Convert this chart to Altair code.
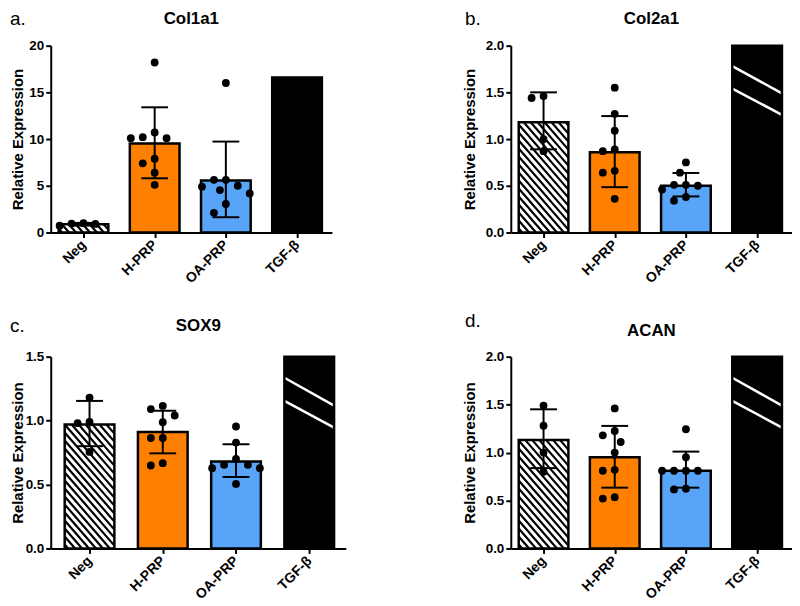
import json
import pandas as pd
import altair as alt

# ---------------- data ----------------
CATEGORIES = ["Neg", "H-PRP", "OA-PRP", "TGF-β"]
GENES = ["Col1a1", "Col2a1", "SOX9", "ACAN"]
LETTERS = ["a.", "b.", "c.", "d."]

Y_MAX = [20, 2.0, 1.5, 2.0]
Y_TICKS = [[0, 5, 10, 15, 20], [0, 0.5, 1.0, 1.5, 2.0], [0, 0.5, 1.0, 1.5], [0, 0.5, 1.0, 1.5, 2.0]]

# bar heights (TGF-β in b-d runs off the scale, drawn up to the axis maximum)
COL1A1_MEAN = [0.88, 9.52, 5.56, 16.6]
COL2A1_MEAN = [1.18, 0.86, 0.50, 2.0]
SOX9_MEAN = [0.97, 0.91, 0.68, 1.5]
ACAN_MEAN = [1.13, 0.95, 0.81, 2.0]

# error bars (low, high) for Neg, H-PRP, OA-PRP
COL1A1_LO = [0.74, 5.8, 1.63]
COL1A1_HI = [1.02, 13.4, 9.73]
COL2A1_LO = [0.89, 0.485, 0.386]
COL2A1_HI = [1.50, 1.246, 0.637]
SOX9_LO = [0.80, 0.744, 0.559]
SOX9_HI = [1.154, 1.077, 0.815]
ACAN_LO = [0.838, 0.634, 0.634]
ACAN_HI = [1.451, 1.278, 1.01]

# individual points
COL1A1_NEG = [0.72, 1.0, 0.92, 0.95]
COL1A1_HPRP = [18.2, 10.7, 10.1, 10.1, 10.2, 7.9, 7.4, 6.4, 5.1]
COL1A1_OAPRP = [16.0, 5.64, 5.64, 5.0, 4.9, 4.54, 4.18, 3.05, 2.1]
COL2A1_NEG = [1.46, 1.44, 1.0, 0.87]
COL2A1_HPRP = [1.55, 1.27, 1.09, 0.89, 0.87, 0.66, 0.64, 0.36]
COL2A1_OAPRP = [0.75, 0.64, 0.51, 0.51, 0.50, 0.46, 0.38, 0.34]
SOX9_NEG = [1.18, 0.98, 0.99, 0.755]
SOX9_HPRP = [1.115, 1.09, 1.04, 0.987, 0.864, 0.864, 0.649, 0.667]
SOX9_OAPRP = [0.954, 0.828, 0.70, 0.628, 0.654, 0.654, 0.628, 0.505]
ACAN_NEG = [1.49, 1.28, 1.0, 0.80]
ACAN_HPRP = [1.46, 1.225, 1.18, 1.11, 1.0, 0.81, 0.82, 0.52, 0.535]
ACAN_OAPRP = [1.243, 0.951, 0.81, 0.81, 0.81, 0.81, 0.623, 0.616]

TGF_OFF_SCALE = [False, True, True, True]
BREAK_FRACS = [(0.89, 0.745), (0.77, 0.63)]

MEANS = [COL1A1_MEAN, COL2A1_MEAN, SOX9_MEAN, ACAN_MEAN]
LOS = [COL1A1_LO, COL2A1_LO, SOX9_LO, ACAN_LO]
HIS = [COL1A1_HI, COL2A1_HI, SOX9_HI, ACAN_HI]
POINTS = [
    [COL1A1_NEG, COL1A1_HPRP, COL1A1_OAPRP],
    [COL2A1_NEG, COL2A1_HPRP, COL2A1_OAPRP],
    [SOX9_NEG, SOX9_HPRP, SOX9_OAPRP],
    [ACAN_NEG, ACAN_HPRP, ACAN_OAPRP],
]

# ---------------- styling / layout ----------------
COLORS = ["#FFFFFF", "#FF8000", "#58A4F8", "#000000"]
FONT = "Liberation Sans"
WIDTHS = [283, 283, 297, 283]
HEIGHTS = [188, 188, 193, 193]
X_DOMAINS = [(-0.46, 3.49), (-0.46, 3.49), (-0.53, 3.5), (-0.46, 3.49)]
Y_FORMATS = ["d", ".1f", ".1f", ".1f"]
EXTENT = [25, 27, 25, 27]
TITLE_PAD = [0, 7, 0, 7]
LETTER_POS = [(-41, -21), (-46, -21), (-41, -25), (-46, -30)]
TITLE_BASE = [-22, -22, -26, -21]
BAR_PX = 50
CAP_PX = 27
DOT_PX = 11.5
STEP_PX = 6


def swarm(values, center, pxx, pxy):
    placed = []
    res = [None] * len(values)
    offsets = [0.0] + [s * k * STEP_PX for k in range(1, 10) for s in (-1, 1)]
    for i in sorted(range(len(values)), key=lambda j: -values[j]):
        py = values[i] * pxy
        chosen = offsets[-1]
        for off in offsets:
            if all((off - qx) ** 2 + (py - qy) ** 2 >= DOT_PX ** 2 for qx, qy in placed):
                chosen = off
                break
        placed.append((chosen, py))
        res[i] = center + chosen / pxx
    return res


def panel(i):
    W, H = WIDTHS[i], HEIGHTS[i]
    xl, xr = X_DOMAINS[i]
    ymax = Y_MAX[i]
    pxx = W / (xr - xl)
    pxy = H / ymax
    bw = BAR_PX / pxx
    cap = CAP_PX / 2 / pxx

    xs = alt.Scale(domain=[xl, xr], nice=False, zero=False)
    ys = alt.Scale(domain=[0, ymax], nice=False, zero=True)
    xaxis = alt.Axis(
        values=[0, 1, 2, 3],
        labelExpr=json.dumps(CATEGORIES, ensure_ascii=False) + "[datum.value]",
        title=None, grid=False, labelAngle=-45, labelAlign="right",
        labelBaseline="middle", labelPadding=5, tickSize=5, labelFlush=False,
        labelOverlap=False, labelFontSize=14,
    )
    yaxis = alt.Axis(
        values=Y_TICKS[i], format=Y_FORMATS[i], title="Relative Expression",
        grid=False, tickSize=5, labelPadding=2, minExtent=EXTENT[i], maxExtent=EXTENT[i],
        titlePadding=TITLE_PAD[i], labelFlush=False, labelOverlap=False,
        labelFontSize=13.5,
    )

    def X(f):
        return alt.X(f, type="quantitative", scale=xs, axis=xaxis)

    def Y(f):
        return alt.Y(f, type="quantitative", scale=ys, axis=yaxis)

    bars = pd.DataFrame({
        "cat": CATEGORIES,
        "x0": [p - bw / 2 for p in range(4)],
        "x1": [p + bw / 2 for p in range(4)],
        "top": MEANS[i],
        "base": [0] * 4,
    })

    err = pd.DataFrame({
        "pos": [0, 1, 2], "lo": LOS[i], "hi": HIS[i],
        "c0": [p - cap for p in range(3)], "c1": [p + cap for p in range(3)],
    })
    caps = pd.concat([
        err[["c0", "c1", "lo"]].rename(columns={"lo": "y"}),
        err[["c0", "c1", "hi"]].rename(columns={"hi": "y"}),
    ])

    rows = []
    for g in range(3):
        vals = POINTS[i][g]
        for v, x in zip(vals, swarm(vals, g, pxx, pxy)):
            rows.append({"x": x, "v": v})
    dots = pd.DataFrame(rows)

    # hatch of the Neg bar, derived from its data extent
    hs = 7.0
    k = 1.15
    Wp = BAR_PX
    Hp = MEANS[i][0] * pxy
    x_left = 0 - bw / 2
    hatch = []
    c = hs * k * 0.5
    while c < Hp + k * Wp:
        xa = max(0.0, (c - Hp) / k)
        xb = min(Wp, c / k)
        if xb > xa:
            hatch.append({
                "x": x_left + xa / pxx, "x2": x_left + xb / pxx,
                "y": (c - k * xa) / pxy, "y2": (c - k * xb) / pxy,
            })
        c += hs * k
    hatch = pd.DataFrame(hatch)

    layers = []
    layers.append(alt.Chart(bars).mark_rect(strokeWidth=0).encode(
        x=X("x0"), x2="x1", y=Y("top"), y2="base",
        color=alt.Color("cat:N", scale=alt.Scale(domain=CATEGORIES, range=COLORS), legend=None),
    ))
    layers.append(alt.Chart(hatch).mark_rule(color="black", strokeWidth=2.2).encode(
        x=X("x"), x2="x2", y=Y("y"), y2="y2"))
    if TGF_OFF_SCALE[i]:
        brk = pd.DataFrame({
            "x": [3 - bw / 2] * len(BREAK_FRACS), "x2": [3 + bw / 2] * len(BREAK_FRACS),
            "y": [a * ymax for a, b in BREAK_FRACS], "y2": [b * ymax for a, b in BREAK_FRACS],
        })
        layers.append(alt.Chart(brk).mark_rule(color="white", strokeWidth=2.5).encode(
            x=X("x"), x2="x2", y=Y("y"), y2="y2"))
    layers.append(alt.Chart(bars).mark_rect(fillOpacity=0, stroke="black", strokeWidth=2.5).encode(
        x=X("x0"), x2="x1", y=Y("top"), y2="base"))
    layers.append(alt.Chart(err).mark_rule(color="black", strokeWidth=2).encode(
        x=X("pos"), y=Y("lo"), y2="hi"))
    layers.append(alt.Chart(caps).mark_rule(color="black", strokeWidth=2).encode(
        x=X("c0"), x2="c1", y=Y("y")))
    layers.append(alt.Chart(dots).mark_circle(size=62, color="black", opacity=1).encode(
        x=X("x"), y=Y("v")))
    lx, ly = LETTER_POS[i]
    layers.append(alt.Chart(pd.DataFrame({"t": [LETTERS[i]]})).mark_text(
        font=FONT, fontSize=19, align="left", baseline="alphabetic", color="black",
    ).encode(text="t:N", x=alt.value(lx), y=alt.value(ly)))
    layers.append(alt.Chart(pd.DataFrame({"t": [GENES[i]]})).mark_text(
        font=FONT, fontSize=17, fontWeight="bold", align="center", baseline="alphabetic", color="black",
    ).encode(text="t:N", x=alt.value(W / 2), y=alt.value(TITLE_BASE[i])))

    return alt.layer(*layers).properties(width=W, height=H)


chart = alt.concat(
    panel(0), panel(1), panel(2), panel(3),
    columns=2,
    spacing={"row": 120, "column": 166},
    bounds="flush",
    align="all",
).properties(
    padding={"left": 2, "top": 0, "right": 0, "bottom": 0}
).configure_view(
    strokeWidth=0
).configure_axis(
    domainColor="black", domainWidth=2, tickColor="black", tickWidth=2,
    labelFont=FONT, labelFontSize=14, labelFontWeight="bold", labelColor="black",
    titleFont=FONT, titleFontSize=15, titleFontWeight="bold", titleColor="black",
)

chart.save("out.html", embed_options={"renderer": "svg", "actions": False})
